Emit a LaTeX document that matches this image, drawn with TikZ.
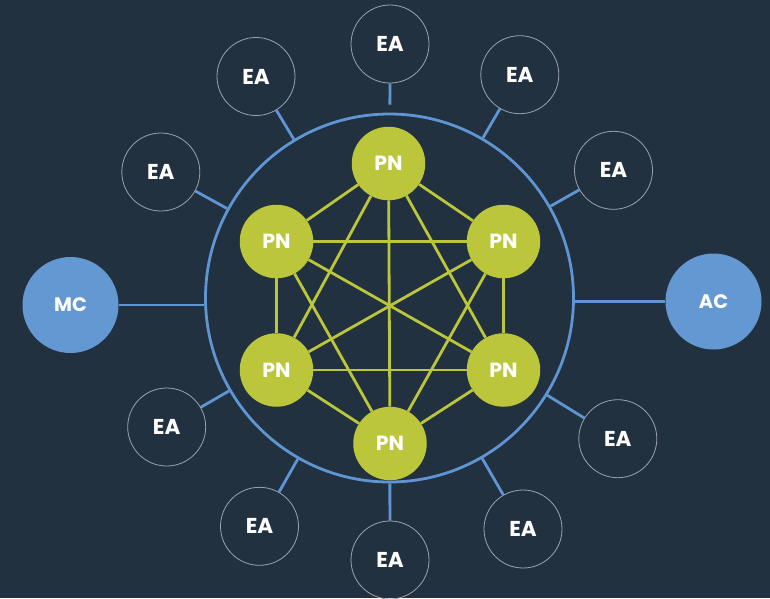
\documentclass[tikz,border=0pt]{standalone}
\usepackage{fontspec}
\setmainfont{Poppins}
\definecolor{bgc}{HTML}{223140}
\definecolor{blueline}{HTML}{5E95D2}
\definecolor{bluefill}{HTML}{6498D2}
\definecolor{greenc}{HTML}{BCC63B}
\definecolor{eaedge}{HTML}{9AA3AD}
\tikzset{
  ringnode/.style={circle, draw=blueline, line width=2.8pt, minimum size=368pt, inner sep=0pt},
  pnnode/.style={circle, fill=greenc, minimum size=73.5pt, inner sep=0pt, text=white, font=\fontsize{20.5}{20}\selectfont\bfseries},
  eanode/.style={circle, draw=eaedge, line width=0.8pt, minimum size=78pt, inner sep=0pt, text=white, font=\fontsize{21.5}{20}\selectfont\bfseries},
  bignode/.style={circle, fill=bluefill, minimum size=96pt, inner sep=0pt, text=white, font=\fontsize{19.5}{18}\selectfont\bfseries},
  bluelink/.style={draw=blueline, line width=2.8pt},
  greenlink/.style={draw=greenc, line width=2.8pt}
}
\begin{document}
\begin{tikzpicture}[x=1pt,y=-1pt]
\fill[bgc] (0,0) rectangle (770,598);
\useasboundingbox (0,0) rectangle (770,598);
\node[ringnode] (ring) at (389.5,298) {};
% PN nodes
\node[pnnode] (p1) at (388.5,163.5) {PN};
\node[pnnode] (p2) at (276.5,241.5) {PN};
\node[pnnode] (p3) at (503.5,241.5) {PN};
\node[pnnode] (p4) at (276.5,370) {PN};
\node[pnnode] (p5) at (503.5,370) {PN};
\node[pnnode] (p6) at (390,443.5) {PN};
\foreach \a/\b in {1/2,1/3,1/4,1/5,1/6,2/3,2/4,2/5,2/6,3/4,3/5,3/6,4/5,4/6,5/6}
  \draw[greenlink] (p\a) -- (p\b);
% MC / AC
\node[bignode] (mc) at (70.5,305) {MC};
\node[bignode] (ac) at (713.5,301.5) {AC};
\draw[bluelink] (mc.east) -- (mc.east -| ring.west);
\draw[bluelink] (ac.west) -- (ac.west -| ring.east);
% EA nodes
\node[eanode] (e1) at (390,44) {EA};
\node[eanode] (e2) at (256,76.5) {EA};
\node[eanode] (e3) at (519.8,74.7) {EA};
\node[eanode] (e4) at (160.8,172) {EA};
\node[eanode] (e5) at (613.5,170.3) {EA};
\node[eanode] (e6) at (166.7,427) {EA};
\node[eanode] (e7) at (617.8,438.7) {EA};
\node[eanode] (e8) at (259.5,526.3) {EA};
\node[eanode] (e9) at (523,529) {EA};
\node[eanode] (e10) at (390,560) {EA};
\draw[bluelink, shorten >=8pt] (e1) -- (ring);
\foreach \i in {2,...,10}
  \draw[bluelink] (e\i) -- (ring);
\end{tikzpicture}
\end{document}
